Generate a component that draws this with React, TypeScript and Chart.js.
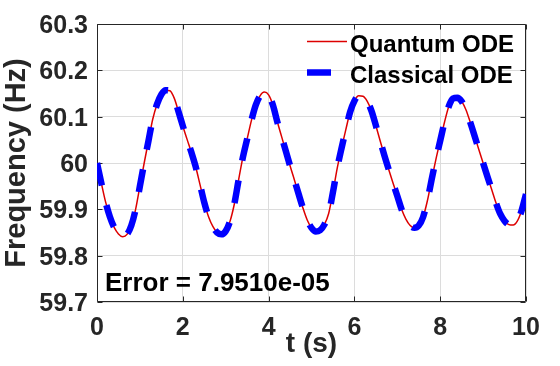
import React, { useEffect, useRef } from 'react';
import { Chart, registerables } from 'chart.js';

Chart.register(...registerables);

// ---- data ----
const TIME_S = [
  0, 0.1, 0.2, 0.3, 0.4, 0.5, 0.6, 0.7, 0.8, 0.9,
  1, 1.1, 1.2, 1.3, 1.4, 1.5, 1.6, 1.7, 1.8, 1.9,
  2, 2.1, 2.2, 2.3, 2.4, 2.5, 2.6, 2.7, 2.8, 2.9,
  3, 3.1, 3.2, 3.3, 3.4, 3.5, 3.6, 3.7, 3.8, 3.9,
  4, 4.1, 4.2, 4.3, 4.4, 4.5, 4.6, 4.7, 4.8, 4.9,
  5, 5.1, 5.2, 5.3, 5.4, 5.5, 5.6, 5.7, 5.8, 5.9,
  6, 6.1, 6.2, 6.3, 6.4, 6.5, 6.6, 6.7, 6.8, 6.9,
  7, 7.1, 7.2, 7.3, 7.4, 7.5, 7.6, 7.7, 7.8, 7.9,
  8, 8.1, 8.2, 8.3, 8.4, 8.5, 8.6, 8.7, 8.8, 8.9,
  9, 9.1, 9.2, 9.3, 9.4, 9.5, 9.6, 9.7, 9.8, 9.9,
  10,
];

const QUANTUM_HZ = [
  60.000, 59.957, 59.916, 59.884, 59.861, 59.847, 59.841, 59.846, 59.865, 59.900,
  59.950, 60.000, 60.048, 60.095, 60.127, 60.148, 60.157, 60.156, 60.140, 60.111,
  60.080, 60.051, 60.023, 59.992, 59.954, 59.915, 59.884, 59.863, 59.850, 59.846,
  59.853, 59.874, 59.911, 59.963, 60.012, 60.052, 60.092, 60.125, 60.145, 60.153,
  60.147, 60.125, 60.090, 60.058, 60.026, 59.994, 59.964, 59.933, 59.903, 59.877,
  59.860, 59.852, 59.855, 59.867, 59.891, 59.937, 59.989, 60.032, 60.072, 60.110,
  60.134, 60.145, 60.144, 60.133, 60.112, 60.081, 60.048, 60.016, 59.986, 59.957,
  59.929, 59.900, 59.879, 59.865, 59.860, 59.865, 59.883, 59.918, 59.964, 60.008,
  60.048, 60.088, 60.122, 60.139, 60.141, 60.133, 60.115, 60.088, 60.059, 60.029,
  60.000, 59.971, 59.943, 59.914, 59.890, 59.875, 59.867, 59.866, 59.875, 59.898,
  59.933,
];

// The classical solution coincides with the quantum one to within 8e-05 Hz.
const CLASSICAL_HZ = [
  60.000, 59.957, 59.916, 59.884, 59.861, 59.847, 59.841, 59.846, 59.865, 59.900,
  59.950, 60.000, 60.048, 60.095, 60.127, 60.148, 60.157, 60.156, 60.140, 60.111,
  60.080, 60.051, 60.023, 59.992, 59.954, 59.915, 59.884, 59.863, 59.850, 59.846,
  59.853, 59.874, 59.911, 59.963, 60.012, 60.052, 60.092, 60.125, 60.145, 60.153,
  60.147, 60.125, 60.090, 60.058, 60.026, 59.994, 59.964, 59.933, 59.903, 59.877,
  59.860, 59.852, 59.855, 59.867, 59.891, 59.937, 59.989, 60.032, 60.072, 60.110,
  60.134, 60.145, 60.144, 60.133, 60.112, 60.081, 60.048, 60.016, 59.986, 59.957,
  59.929, 59.900, 59.879, 59.865, 59.860, 59.865, 59.883, 59.918, 59.964, 60.008,
  60.048, 60.088, 60.122, 60.139, 60.141, 60.133, 60.115, 60.088, 60.059, 60.029,
  60.000, 59.971, 59.943, 59.914, 59.890, 59.875, 59.867, 59.866, 59.875, 59.898,
  59.933,
];

const SERIES_LABELS = ['Quantum ODE', 'Classical ODE'];
const X_TICKS = [0, 2, 4, 6, 8, 10];
const X_TICK_LABELS = ['0', '2', '4', '6', '8', '10'];
const Y_TICKS = [59.7, 59.8, 59.9, 60, 60.1, 60.2, 60.3];
const Y_TICK_LABELS = ['59.7', '59.8', '59.9', '60', '60.1', '60.2', '60.3'];
const X_TITLE = 't (s)';
const Y_TITLE = 'Frequency (Hz)';
const ERROR_TEXT = 'Error = 7.9510e-05';

const FONT = "'Liberation Sans', Arial, Helvetica, sans-serif";
const AXIS_COLOR = '#262626';
const RED = '#dd0000';
const BLUE = '#0000ff';

const overlayPlugin = {
  id: 'matlabOverlay',
  beforeDatasetsDraw(chart: any) {
    const { ctx, chartArea: a, scales } = chart;
    ctx.save();
    ctx.strokeStyle = AXIS_COLOR;
    ctx.lineWidth = 1;
    const L = Math.round(a.left) + 0.5;
    const R = Math.round(a.right) - 0.5;
    const T = Math.round(a.top) + 0.5;
    const B = Math.round(a.bottom) - 0.5;
    ctx.beginPath();
    ctx.rect(L, T, R - L, B - T);
    const tl = 5;
    for (const v of Y_TICKS) {
      const y = Math.round(scales.y.getPixelForValue(v)) + 0.5;
      ctx.moveTo(L, y); ctx.lineTo(L + tl, y);
      ctx.moveTo(R, y); ctx.lineTo(R - tl, y);
    }
    for (const v of X_TICKS) {
      const x = Math.round(scales.x.getPixelForValue(v)) + 0.5;
      ctx.moveTo(x, B); ctx.lineTo(x, B - tl);
      ctx.moveTo(x, T); ctx.lineTo(x, T + tl);
    }
    ctx.stroke();
    ctx.restore();
  },
  afterDraw(chart: any) {
    const { ctx, chartArea: a } = chart;
    ctx.save();
    // legend (transparent box, top-right inside the axes)
    const sx = a.right - 219;
    ctx.lineCap = 'butt';
    ctx.strokeStyle = RED;
    ctx.lineWidth = 1.5;
    ctx.beginPath();
    ctx.moveTo(sx, a.top + 17.5);
    ctx.lineTo(sx + 40, a.top + 17.5);
    ctx.stroke();
    ctx.strokeStyle = BLUE;
    ctx.lineWidth = 6.5;
    ctx.beginPath();
    ctx.moveTo(sx, a.top + 48.5);
    ctx.lineTo(sx + 24, a.top + 48.5);
    ctx.stroke();
    ctx.fillStyle = '#000000';
    ctx.font = `bold 24px ${FONT}`;
    ctx.textAlign = 'left';
    ctx.textBaseline = 'alphabetic';
    ctx.fillText(SERIES_LABELS[0], sx + 43, a.top + 27.5);
    ctx.fillText(SERIES_LABELS[1], sx + 43, a.top + 58.5);
    // error annotation
    ctx.font = `bold 26px ${FONT}`;
    ctx.fillText(ERROR_TEXT, a.left + 8, a.bottom - 11);
    ctx.restore();
  },
};

export default function App() {
  const canvasRef = useRef<HTMLCanvasElement | null>(null);

  useEffect(() => {
    const canvas = canvasRef.current;
    if (!canvas) return;
    const quantum = TIME_S.map((t, i) => ({ x: t, y: QUANTUM_HZ[i] }));
    const classical = TIME_S.map((t, i) => ({ x: t, y: CLASSICAL_HZ[i] }));
    const chart = new Chart(canvas, {
      type: 'line',
      data: {
        datasets: [
          {
            label: SERIES_LABELS[0],
            data: quantum,
            borderColor: RED,
            borderWidth: 1.5,
            pointRadius: 0,
            cubicInterpolationMode: 'monotone',
            fill: false,
            order: 1,
          },
          {
            label: SERIES_LABELS[1],
            data: classical,
            borderColor: BLUE,
            borderWidth: 6.5,
            borderDash: [23, 20],
            borderCapStyle: 'butt',
            pointRadius: 0,
            cubicInterpolationMode: 'monotone',
            fill: false,
            order: 0,
          },
        ],
      },
      options: {
        responsive: false,
        animation: false,
        devicePixelRatio: 1,
        layout: { padding: { left: 0, top: 24, right: 34, bottom: 0 } },
        plugins: {
          legend: { display: false },
          tooltip: { enabled: false },
        },
        scales: {
          x: {
            type: 'linear',
            min: 0,
            max: 10,
            afterBuildTicks: (scale: any) => {
              scale.ticks = X_TICKS.map((v) => ({ value: v }));
            },
            afterFit: (scale: any) => {
              scale.height = 64;
            },
            grid: { color: '#dcdcdc', lineWidth: 1, drawTicks: false },
            border: { display: false },
            ticks: {
              padding: 11,
              color: AXIS_COLOR,
              font: { family: FONT, size: 25, weight: 'bold' },
              maxRotation: 0,
              callback: (v: any) => {
                const i = X_TICKS.indexOf(Number(v));
                return i >= 0 ? X_TICK_LABELS[i] : '';
              },
            },
            title: {
              display: true,
              text: X_TITLE,
              color: AXIS_COLOR,
              font: { family: FONT, size: 28, weight: 'bold' },
              padding: { top: 0, bottom: 4.5 },
            },
          },
          y: {
            type: 'linear',
            min: 59.7,
            max: 60.3,
            afterBuildTicks: (scale: any) => {
              scale.ticks = Y_TICKS.map((v) => ({ value: v }));
            },
            afterFit: (scale: any) => {
              scale.width = 97;
            },
            grid: { color: '#dcdcdc', lineWidth: 1, drawTicks: false },
            border: { display: false },
            ticks: {
              padding: 9,
              labelOffset: 2,
              color: AXIS_COLOR,
              font: { family: FONT, size: 25, weight: 'bold' },
              callback: (v: any) => {
                const i = Y_TICKS.findIndex((t) => Math.abs(t - Number(v)) < 1e-6);
                return i >= 0 ? Y_TICK_LABELS[i] : '';
              },
            },
            title: {
              display: true,
              text: Y_TITLE,
              color: AXIS_COLOR,
              font: { family: FONT, size: 29, weight: 'bold' },
              padding: { top: 0, bottom: 0 },
            },
          },
        },
      },
      plugins: [overlayPlugin],
    } as any);
    return () => chart.destroy();
  }, []);

  return (
    <div
      style={{
        position: 'fixed',
        left: 0,
        top: 0,
        width: 560,
        height: 366,
        background: '#ffffff',
      }}
    >
      <canvas ref={canvasRef} width={560} height={366} style={{ display: 'block' }} />
    </div>
  );
}
